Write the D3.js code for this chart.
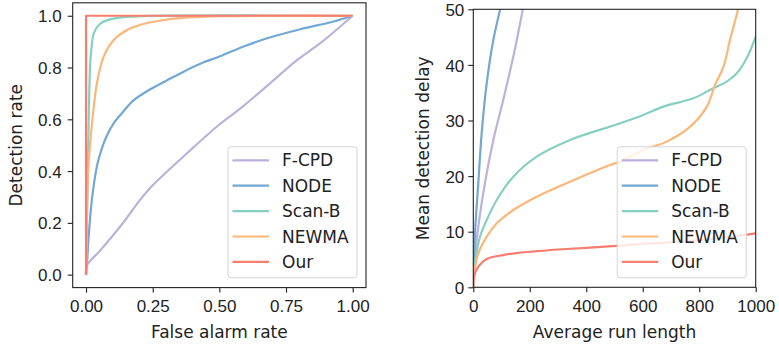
<!DOCTYPE html>
<html>
<head>
<meta charset="utf-8">
<script src="https://cdn.jsdelivr.net/npm/d3@7"></script>
<style>
  body { margin: 0; background: #fff; }
  svg { display: block; font-family: "DejaVu Sans", sans-serif; }
  .tick text { font-size: 17px; fill: #222; }
  .tick line { stroke: #222; }
</style>
</head>
<body>
<svg id="mount" width="779" height="347"></svg>
<script>
var seriesNames = ["F-CPD", "NODE", "Scan-B", "NEWMA", "Our"];
var seriesColors = ["#bbb1dc", "#72a8d3", "#86d0c1", "#fdb679", "#f87d71"];

// ROC panel: [false alarm rate, detection rate]
var rocFcpd = [[0, 0], [0.003, 0.035], [0.05, 0.09], [0.1, 0.15], [0.15, 0.215], [0.2, 0.285],
  [0.25, 0.345], [0.38, 0.47], [0.5, 0.58], [0.579, 0.642], [0.68, 0.73], [0.79, 0.828],
  [0.88, 0.895], [1, 1]];
var rocNode = [[0, 0], [0.004, 0.05], [0.01, 0.15], [0.022, 0.29], [0.041, 0.42], [0.054, 0.47],
  [0.075, 0.53], [0.104, 0.585], [0.14, 0.63], [0.179, 0.674], [0.241, 0.716], [0.304, 0.751],
  [0.366, 0.784], [0.441, 0.82], [0.491, 0.839], [0.591, 0.881], [0.679, 0.913], [0.804, 0.948],
  [0.929, 0.978], [1, 1]];
var rocScanB = [[0, 0], [0.005, 0.3], [0.01, 0.6], [0.015, 0.8], [0.02, 0.87], [0.03, 0.935],
  [0.054, 0.97], [0.09, 0.986], [0.154, 0.996], [0.25, 1], [1, 1]];
var rocNewma = [[0, 0], [0.003, 0.2], [0.008, 0.4], [0.015, 0.5], [0.025, 0.61], [0.041, 0.74],
  [0.066, 0.842], [0.104, 0.906], [0.154, 0.945], [0.216, 0.968], [0.279, 0.981], [0.341, 0.99],
  [0.5, 0.998], [1, 1]];
var rocOur = [[0, 0], [0, 1], [1, 1]];

// Delay panel: [average run length, mean detection delay]
var delayFcpd = [[0, 0], [6, 5.5], [17.7, 10.9], [41, 18.7], [71, 26.5], [106, 33.7],
  [141.7, 41.5], [160, 46], [175, 49.9], [185, 52.5]];
var delayNode = [[0, 0], [6, 9.7], [17.7, 18.7], [29.6, 27.7], [47.5, 36.7], [71, 44.5],
  [94.5, 49.9], [105, 52.5]];
var delayScanB = [[0, 0], [6, 4.3], [23.7, 9.1], [47.5, 12.1], [83, 15.7], [141.7, 19.9],
  [224.6, 23.5], [342.5, 26.5], [484, 28.9], [519.7, 29.5], [602, 31], [673, 32.5], [779, 34],
  [850, 35.8], [897, 37], [933, 38.5], [968, 41.2], [1000, 45.1]];
var delayNewma = [[0, 0], [6, 3.5], [17.7, 6.1], [47.5, 9.1], [83, 11.5], [141.7, 13.9],
  [224.6, 16.3], [342.5, 19], [484, 22], [519.7, 22.6], [602, 24.7], [685, 26.2], [768, 28.9],
  [827, 32.5], [856, 36.4], [886, 39.7], [909, 44.5], [937, 49.9], [945, 52]];
var delayOur = [[0, 0], [2.5, 1.9], [17.7, 3.7], [47.5, 5.1], [106, 5.8], [160, 6.2],
  [224.6, 6.5], [300, 6.8], [400, 7.1], [519.7, 7.5], [600, 7.8], [700, 8.1], [800, 8.5],
  [900, 9], [1000, 9.7]];

var rocTicksX = [0, 0.25, 0.5, 0.75, 1];
var rocTicksY = [0, 0.2, 0.4, 0.6, 0.8, 1];
var delayTicksX = [0, 200, 400, 600, 800, 1000];
var delayTicksY = [0, 10, 20, 30, 40, 50];

var svg = d3.select("#mount");

/**
 * Draw one axes panel with its lines, ticks, labels and legend
 */
function drawPanel(opt) {
  var x = d3.scaleLinear().domain(opt.xDomain).range(opt.xRange);
  var y = d3.scaleLinear().domain(opt.yDomain).range(opt.yRange);
  var left = opt.xRange[0], right = opt.xRange[1];
  var top = opt.yRange[1], bottom = opt.yRange[0];

  var clipId = "clip-" + opt.id;
  svg.append("clipPath").attr("id", clipId)
    .append("rect")
    .attr("x", left).attr("y", top)
    .attr("width", right - left).attr("height", bottom - top);

  var lines = svg.append("g").attr("clip-path", "url(#" + clipId + ")");
  opt.series.forEach(function(data, i) {
    // corners (the ideal ROC) stay straight, measured curves get smoothed
    var line = d3.line()
      .curve(opt.straight[i] ? d3.curveLinear : d3.curveCatmullRom.alpha(0.5))
      .x(function(d) { return x(d[0]); })
      .y(function(d) { return y(d[1]); });
    lines.append("path")
      .datum(data)
      .attr("fill", "none")
      .attr("stroke", seriesColors[i])
      .attr("stroke-width", 2.2)
      .attr("stroke-linejoin", "round")
      .attr("d", line);
  });

  // x axis
  var gx = svg.append("g")
    .attr("transform", "translate(0," + bottom + ")")
    .call(d3.axisBottom(x).tickValues(opt.xTicks).tickFormat(opt.xFormat)
      .tickSize(5).tickPadding(6));
  gx.select(".domain").remove();
  gx.selectAll(".tick line").attr("stroke-width", 1.1);
  gx.selectAll(".tick text").attr("y", 0).attr("dy", null).attr("transform", "translate(0,24.2)");

  // y axis
  var gy = svg.append("g")
    .attr("transform", "translate(" + left + ",0)")
    .call(d3.axisLeft(y).tickValues(opt.yTicks).tickFormat(opt.yFormat)
      .tickSize(5).tickPadding(opt.yPad));
  gy.select(".domain").remove();
  gy.selectAll(".tick line").attr("stroke-width", 1.1);
  gy.selectAll(".tick text").attr("dy", "0.36em");

  // frame
  svg.append("rect")
    .attr("x", left).attr("y", top)
    .attr("width", right - left).attr("height", bottom - top)
    .attr("fill", "none")
    .attr("stroke", "#222")
    .attr("stroke-width", 1.1);

  svg.append("text")
    .attr("x", (left + right) / 2)
    .attr("y", 337.5)
    .attr("text-anchor", "middle")
    .style("font-size", "17px")
    .attr("fill", "#222")
    .text(opt.xLabel);

  svg.append("text")
    .attr("transform", "translate(" + opt.yLabelX + "," + (top + bottom) / 2 + ") rotate(-90)")
    .attr("text-anchor", "middle")
    .style("font-size", "17px")
    .attr("fill", "#222")
    .text(opt.yLabel);

  // legend
  var lg = svg.append("g").attr("transform", "translate(" + opt.legendX + "," + opt.legendY + ")");
  lg.append("rect")
    .attr("x", 0.5).attr("y", 0.5)
    .attr("width", 129).attr("height", 131)
    .attr("rx", 3)
    .attr("fill", "#fff")
    .attr("fill-opacity", 0.8)
    .attr("stroke", "#d5d5d5");
  seriesNames.forEach(function(name, i) {
    var yy = 14 + i * 25.4;
    lg.append("line")
      .attr("x1", 5).attr("x2", 41.5)
      .attr("y1", yy).attr("y2", yy)
      .attr("stroke", seriesColors[i])
      .attr("stroke-width", 2.2);
    lg.append("text")
      .attr("x", 54.5)
      .attr("y", yy)
      .attr("dy", "0.36em")
      .style("font-size", "17px")
      .attr("fill", "#222")
      .text(name);
  });
}

drawPanel({
  id: "roc",
  xDomain: [-0.05, 1.05], xRange: [72.7, 366],
  yDomain: [-0.05, 1.05], yRange: [287.6, 2.8],
  series: [rocFcpd, rocNode, rocScanB, rocNewma, rocOur],
  straight: [false, false, false, false, true],
  xTicks: rocTicksX, yTicks: rocTicksY,
  xFormat: d3.format(".2f"), yFormat: d3.format(".1f"),
  yPad: 6,
  xLabel: "False alarm rate", yLabel: "Detection rate",
  yLabelX: 21.7,
  legendX: 227.5, legendY: 146.3
});

drawPanel({
  id: "delay",
  xDomain: [0, 1000], xRange: [473.3, 755.7],
  yDomain: [0, 50], yRange: [287.3, 9.3],
  series: [delayFcpd, delayNode, delayScanB, delayNewma, delayOur],
  straight: [false, false, false, false, false],
  xTicks: delayTicksX, yTicks: delayTicksY,
  xFormat: d3.format("d"), yFormat: d3.format("d"),
  yPad: 4,
  xLabel: "Average run length", yLabel: "Mean detection delay",
  yLabelX: 428.5,
  legendX: 616.7, legendY: 146.3
});
</script>
</body>
</html>
